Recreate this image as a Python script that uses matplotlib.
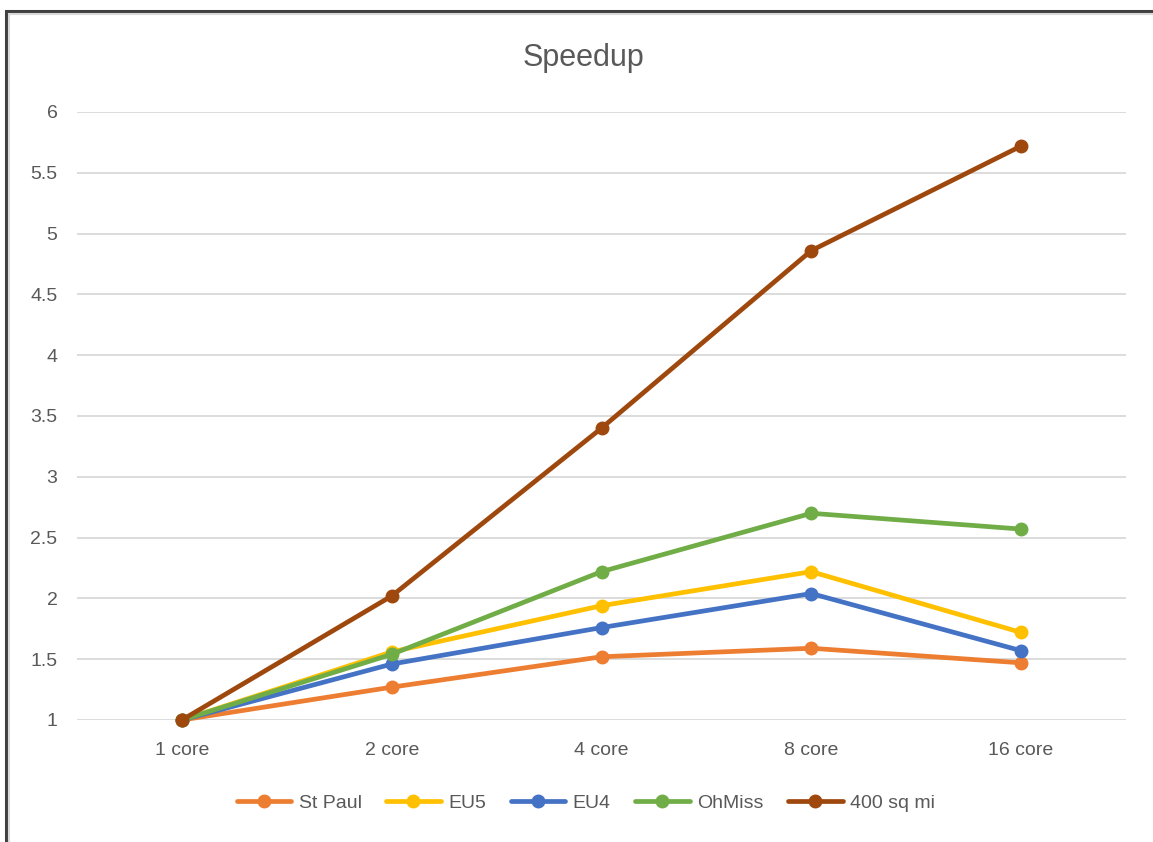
"""Speedup line chart (Excel style)"""
import matplotlib; matplotlib.use('Agg')
import matplotlib.pyplot as plt
from matplotlib.patches import Rectangle

plt.rcParams['font.family'] = ['Liberation Sans', 'DejaVu Sans']

# data
cores = ['1 core', '2 core', '4 core', '8 core', '16 core']
st_paul = [1.0, 1.27, 1.52, 1.59, 1.47]
eu5 = [1.0, 1.56, 1.94, 2.22, 1.72]
eu4 = [1.0, 1.46, 1.76, 2.04, 1.57]
ohmiss = [1.0, 1.54, 2.22, 2.70, 2.57]
sqmi400 = [1.0, 2.02, 3.40, 4.86, 5.72]
series_names = ['St Paul', 'EU5', 'EU4', 'OhMiss', '400 sq mi']
colors = ['#ED7D31', '#FFC000', '#4472C4', '#70AD47', '#9E480E']
yticks = [1, 1.5, 2, 2.5, 3, 3.5, 4, 4.5, 5, 5.5, 6]
ytick_labels = ['1', '1.5', '2', '2.5', '3', '3.5', '4', '4.5', '5', '5.5', '6']

W, H = 1153, 842
fig = plt.figure(figsize=(W / 100, H / 100), dpi=100)
ax = fig.add_axes([77 / W, 122 / H, (1126 - 77) / W, (720 - 112) / H])

x = list(range(len(cores)))
for name, vals, c in zip(series_names, [st_paul, eu5, eu4, ohmiss, sqmi400], colors):
    ax.plot(x, vals, color=c, lw=3.4, marker='o', ms=9, label=name,
            solid_capstyle='round', clip_on=False)

ax.set_xlim(-0.5, len(cores) - 0.5)
ax.set_ylim(1, 6)
ax.set_yticks(yticks)
ax.set_yticklabels(ytick_labels)
ax.set_xticks(x)
ax.set_xticklabels(cores)
ax.grid(axis='y', color='#d9d9d9', lw=1.3)
ax.set_axisbelow(True)
for s in ax.spines.values(): s.set_visible(False)
ax.tick_params(axis='y', length=0, pad=14, labelsize=14, labelcolor='#595959')
ax.tick_params(axis='x', length=0, pad=16, labelsize=14, labelcolor='#595959')

fig.text(583 / W, 1 - 58 / H, 'Speedup', ha='center', va='center', fontsize=22, color='#595959')

fig.legend(loc='center', bbox_to_anchor=(586 / W, 1 - 803 / H), ncol=5, frameon=False,
           fontsize=14, labelcolor='#595959', handlelength=2.8, handletextpad=0.4,
           columnspacing=1.25)

# chart frame (cropped at right and bottom)
fig.patches.append(Rectangle((5.5 / W, -0.05), 1.2, 1 - 10.5 / H + 0.05, transform=fig.transFigure,
                             fill=False, ec='#404040', lw=2.2))
fig.patches.append(Rectangle((8.5 / W, -0.05), 1.2, 1 - 13.5 / H + 0.05, transform=fig.transFigure,
                             fill=False, ec='#d9d9d9', lw=1.5))

fig.savefig('out.png', dpi=100, facecolor='white')
